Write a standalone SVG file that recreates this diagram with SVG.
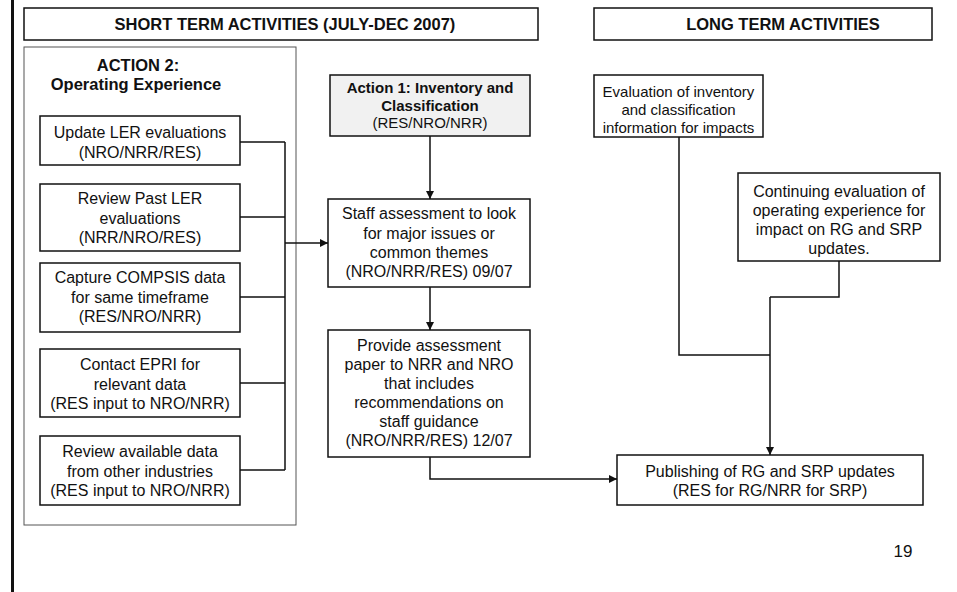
<svg xmlns="http://www.w3.org/2000/svg" width="957" height="592" viewBox="0 0 957 592">
<style>
  text { font-family: "Liberation Sans", Arial, sans-serif; fill: #111; text-anchor: middle; }
  .t { font-size: 16px; }
  .s { font-size: 15px; }
  .b { font-size: 16.5px; font-weight: bold; }
  .bs { font-size: 15px; font-weight: bold; }
  .box { fill: #fff; stroke: #111; stroke-width: 1.5; }
  .grey { fill: #f1f1f1; stroke: #111; stroke-width: 1.5; }
  .frame { fill: none; stroke: #555; stroke-width: 1; }
  .c { fill: none; stroke: #111; stroke-width: 1.5; }
</style>
<defs>
  <marker id="arr" viewBox="0 0 10 10" refX="10" refY="5" markerWidth="8" markerHeight="8" markerUnits="userSpaceOnUse" orient="auto">
    <path d="M0,0 L10,5 L0,10 z" fill="#111"/>
  </marker>
</defs>
<rect width="957" height="592" fill="#fff"/>
<rect x="11" y="0" width="3" height="592" fill="#111"/>

<g id="hdr-short">
  <rect class="box" x="24" y="8" width="514" height="32"/>
  <text class="b" x="285" y="30">SHORT TERM ACTIVITIES (JULY-DEC 2007)</text>
</g>
<g id="hdr-long">
  <rect class="box" x="594" y="8" width="338" height="32"/>
  <text class="b" x="783" y="30">LONG TERM ACTIVITIES</text>
</g>

<g id="action2">
  <rect class="frame" x="24" y="47" width="272" height="478"/>
  <text class="b" x="138" y="71">ACTION 2:</text>
  <text class="b" x="136" y="90">Operating Experience</text>
</g>

<g id="n1">
  <rect class="box" x="40" y="116" width="200" height="49"/>
  <text class="t" x="140" y="138">Update LER evaluations</text>
  <text class="t" x="140" y="158">(NRO/NRR/RES)</text>
</g>
<g id="n2">
  <rect class="box" x="40" y="184" width="200" height="67"/>
  <text class="t" x="140" y="204">Review Past LER</text>
  <text class="t" x="140" y="223.5">evaluations</text>
  <text class="t" x="140" y="243">(NRR/NRO/RES)</text>
</g>
<g id="n3">
  <rect class="box" x="40" y="263" width="200" height="69"/>
  <text class="t" x="140" y="283">Capture COMPSIS data</text>
  <text class="t" x="140" y="302.5">for same timeframe</text>
  <text class="t" x="140" y="322">(RES/NRO/NRR)</text>
</g>
<g id="n4">
  <rect class="box" x="40" y="349" width="200" height="68"/>
  <text class="t" x="140" y="370">Contact EPRI for</text>
  <text class="t" x="140" y="389.5">relevant data</text>
  <text class="t" x="140" y="409">(RES input to NRO/NRR)</text>
</g>
<g id="n5">
  <rect class="box" x="40" y="436" width="200" height="69"/>
  <text class="t" x="140" y="457">Review available data</text>
  <text class="t" x="140" y="476.5">from other industries</text>
  <text class="t" x="140" y="496">(RES input to NRO/NRR)</text>
</g>

<g id="action1">
  <rect class="grey" x="330" y="75" width="200" height="61"/>
  <text class="bs" x="430" y="93">Action 1: Inventory and</text>
  <text class="bs" x="430" y="110.5">Classification</text>
  <text class="s" x="430" y="128">(RES/NRO/NRR)</text>
</g>
<g id="staff">
  <rect class="box" x="328" y="199" width="202" height="88"/>
  <text class="t" x="429" y="219">Staff assessment to look</text>
  <text class="t" x="429" y="238.5">for major issues or</text>
  <text class="t" x="429" y="258">common themes</text>
  <text class="t" x="429" y="277">(NRO/NRR/RES) 09/07</text>
</g>
<g id="provide">
  <rect class="box" x="328" y="330" width="202" height="127"/>
  <text class="t" x="429" y="351">Provide assessment</text>
  <text class="t" x="429" y="370">paper to NRR and NRO</text>
  <text class="t" x="429" y="389">that includes</text>
  <text class="t" x="429" y="408">recommendations on</text>
  <text class="t" x="429" y="427">staff guidance</text>
  <text class="t" x="429" y="446">(NRO/NRR/RES) 12/07</text>
</g>

<g id="eval">
  <rect class="box" x="594" y="75" width="169" height="62"/>
  <text class="s" x="678.5" y="97">Evaluation of inventory</text>
  <text class="s" x="678.5" y="115">and classification</text>
  <text class="s" x="678.5" y="133">information for impacts</text>
</g>
<g id="continuing">
  <rect class="box" x="738" y="173" width="202" height="88"/>
  <text class="t" x="839" y="197">Continuing evaluation of</text>
  <text class="t" x="839" y="216">operating experience for</text>
  <text class="t" x="839" y="235">impact on RG and SRP</text>
  <text class="t" x="839" y="254">updates.</text>
</g>
<g id="publish">
  <rect class="box" x="617" y="455" width="306" height="50"/>
  <text class="t" x="770" y="477">Publishing of RG and SRP updates</text>
  <text class="t" x="770" y="496">(RES for RG/NRR for SRP)</text>
</g>

<g id="connectors">
  <path class="c" d="M240,142 H285 M240,217 H285 M240,297 H285 M240,383 H285 M240,470 H285 M285,142 V470"/>
  <path class="c" d="M285,243 H328" marker-end="url(#arr)"/>
  <path class="c" d="M430,136 V199" marker-end="url(#arr)"/>
  <path class="c" d="M430,287 V330" marker-end="url(#arr)"/>
  <path class="c" d="M430,457 V479 H617" marker-end="url(#arr)"/>
  <path class="c" d="M679,137 V355 H770"/>
  <path class="c" d="M839,261 V297 H770"/>
  <path class="c" d="M770,297 V455" marker-end="url(#arr)"/>
</g>

<text class="t" x="903" y="557" style="font-size:17px">19</text>
</svg>
